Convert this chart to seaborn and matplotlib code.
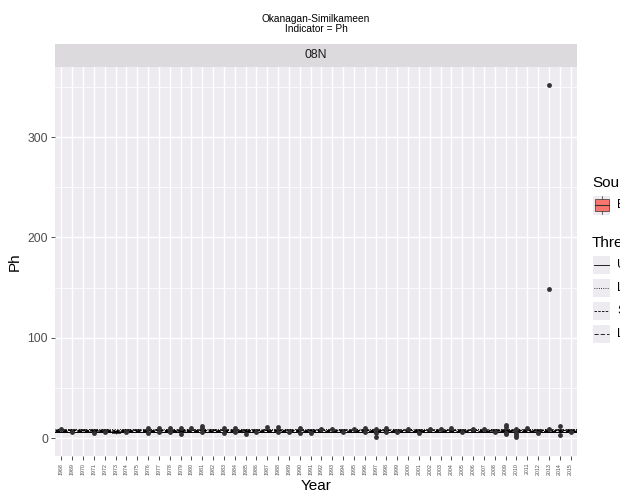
import numpy as np
import pandas as pd
import matplotlib
matplotlib.use("Agg")
import matplotlib.pyplot as plt
from matplotlib.patches import Rectangle
from matplotlib.lines import Line2D
import seaborn as sns

# pH sampling summary per year: five-number summaries
years = list(range(1968, 2016))
ph_min = [7.3, 7.4, 7.5, 7.0, 7.1, 4.5, 7.0, 7.6, 6.8, 7.0, 7.1, 6.7, 7.4, 7.0,
          7.5, 7.0, 7.1, 6.6, 7.2, 7.1, 7.0, 7.1, 7.0, 6.9, 7.2, 7.1, 7.2, 7.0,
          7.0, 6.6, 6.9, 7.0, 7.2, 6.8, 7.1, 7.1, 7.0, 7.2, 7.1, 7.0, 6.6, 6.0,
          5.8, 7.0, 6.8, 7.1, 6.9, 7.1]
ph_q1 = [7.7, 7.7, 7.8, 7.5, 7.5, 5.0, 7.5, 7.8, 7.6, 7.6, 7.6, 7.4, 7.8, 7.7,
         7.8, 7.6, 7.6, 7.4, 7.7, 7.7, 7.6, 7.7, 7.6, 7.5, 7.7, 7.7, 7.7, 7.6,
         7.6, 7.5, 7.6, 7.6, 7.7, 7.5, 7.7, 7.7, 7.6, 7.7, 7.7, 7.6, 7.5, 7.4,
         7.2, 7.6, 7.5, 7.7, 7.6, 7.6]
ph_med = [7.9, 7.9, 8.0, 7.7, 7.7, 6.0, 7.7, 8.0, 7.9, 7.9, 7.9, 7.8, 8.0, 8.0,
          8.0, 7.9, 7.9, 7.7, 7.9, 8.0, 7.9, 7.9, 7.8, 7.8, 7.9, 7.9, 7.9, 7.8,
          7.8, 7.8, 7.8, 7.8, 7.9, 7.7, 7.9, 7.9, 7.8, 7.9, 7.9, 7.8, 7.8, 7.7,
          7.6, 7.8, 7.7, 7.9, 7.8, 7.8]
ph_q3 = [8.1, 8.1, 8.2, 8.0, 8.0, 7.5, 7.9, 8.2, 8.2, 8.1, 8.2, 8.1, 8.3, 8.4,
         8.2, 8.2, 8.2, 8.0, 8.1, 8.3, 8.3, 8.1, 8.1, 8.0, 8.1, 8.1, 8.1, 8.0,
         8.1, 8.0, 8.1, 8.0, 8.1, 8.0, 8.1, 8.1, 8.0, 8.1, 8.1, 8.0, 8.1, 8.2,
         8.1, 8.1, 8.0, 8.2, 8.1, 8.0]
ph_max = [8.4, 8.3, 8.5, 8.3, 8.4, 8.0, 8.2, 8.5, 9.0, 8.6, 8.7, 8.8, 8.8, 9.4,
          8.5, 8.9, 8.8, 8.4, 8.5, 9.0, 9.1, 8.5, 8.6, 8.3, 8.6, 8.6, 8.7, 8.4,
          8.8, 8.4, 8.9, 8.4, 8.7, 8.5, 8.6, 8.8, 8.4, 8.5, 8.6, 8.4, 8.8, 9.6,
          9.0, 8.7, 8.4, 8.9, 8.6, 8.4]

# individual readings outside the whiskers
outlier_years = [1968, 1969, 1971, 1972, 1974, 1976, 1976, 1977, 1977, 1978, 1978,
                 1979, 1979, 1980, 1981, 1981, 1981, 1983, 1983, 1984, 1984,
                 1985, 1986, 1987, 1988, 1988, 1989, 1990, 1990, 1991,
                 1992, 1993, 1994, 1995, 1996, 1996, 1997, 1997, 1997,
                 1998, 1998, 1999, 2000, 2001, 2002, 2003, 2004, 2005,
                 2006, 2007, 2008, 2009, 2009, 2009, 2009, 2010, 2010, 2010,
                 2010, 2011, 2012, 2013, 2013, 2013, 2014, 2014, 2015]
outlier_values = [8.9, 6.5, 5.5, 6.0, 6.0, 10.0, 5.5, 10.0, 6.0, 10.0, 6.0,
                  10.0, 4.0, 10.0, 12.0, 10.0, 6.0, 10.0, 5.5, 10.0, 6.0,
                  4.0, 6.0, 11.0, 11.0, 6.0, 6.0, 10.0, 5.5, 5.5,
                  9.5, 9.5, 6.0, 9.5, 10.0, 6.0, 9.5, 5.0, 1.5,
                  10.0, 6.0, 6.0, 9.5, 5.5, 9.5, 9.5, 10.0, 6.0,
                  9.5, 9.5, 6.0, 13.0, 11.0, 5.0, 4.0, 9.0, 5.0, 3.0,
                  1.0, 10.0, 5.5, 9.5, 352.0, 149.0, 12.0, 3.5, 6.0]

# guideline values, one per line type
threshold_values = [6.5, 9.0, 8.5, 7.0]
threshold_styles = ["-", ":", (0, (3, 1.5)), (0, (5, 2.5))]
threshold_labels = ["Upper", "Lower", "Short-term", "Long-term"]

region = "Okanagan-Similkameen"
indicator = "Ph"
panel = "08N"

year_labels = [str(y) for y in years]
rows = []
for i, y in enumerate(year_labels):
    for v in (ph_min[i], ph_q1[i], ph_med[i], ph_q3[i], ph_max[i]):
        rows.append({"Year": y, "Ph": v})
df = pd.DataFrame(rows)
out_df = pd.DataFrame({"Year": [str(y) for y in outlier_years], "Ph": outlier_values})

FONT = "Liberation Sans"
plt.rcParams["font.family"] = [FONT, "DejaVu Sans"]

W, H = 620, 500
fig = plt.figure(figsize=(W / 100, H / 100), dpi=100)
px = lambda x: x / W
py = lambda y: 1 - y / H

ax = fig.add_axes([px(55), py(456), px(577) - px(55), py(67) - py(456)])
panel_bg = "#EDEBEF"
ax.set_facecolor(panel_bg)

red = "#F8766D"
dark = "#333333"
sns.boxplot(data=df, x="Year", y="Ph", order=year_labels, ax=ax,
            whis=(0, 100), showfliers=False, width=0.75,
            color=red, saturation=1,
            boxprops=dict(edgecolor=dark, linewidth=0.6),
            whiskerprops=dict(color=dark, linewidth=0.8),
            capprops=dict(linewidth=0),
            medianprops=dict(color=dark, linewidth=1.2))
sns.stripplot(data=out_df, x="Year", y="Ph", order=year_labels, ax=ax,
              jitter=False, color=dark, size=3.5, linewidth=0, zorder=5)

for v, ls in zip(threshold_values, threshold_styles):
    ax.axhline(v, color="black", linewidth=0.7, linestyle=ls, zorder=4)

ax.set_xlim(-0.6, len(years) - 1 + 0.6)
ax.set_ylim(-17.9, 369.8)
ax.set_yticks([0, 100, 200, 300])
ax.set_yticks([50, 150, 250, 350], minor=True)
ax.grid(which="major", color="white", linewidth=1.0)
ax.grid(which="minor", axis="y", color="white", linewidth=0.5)
ax.set_axisbelow(True)
for s in ax.spines.values():
    s.set_visible(False)

ax.tick_params(axis="y", which="major", labelsize=8.8, labelcolor="#4D4D4D",
               color=dark, length=3, width=0.6, pad=2)
ax.tick_params(axis="y", which="minor", length=0)
ax.tick_params(axis="x", labelsize=3.8, labelcolor="#4D4D4D", color=dark,
               length=3, width=0.6, pad=2, labelrotation=90)
ax.set_xlabel("Year", fontsize=11)
ax.set_ylabel("Ph", fontsize=11)
ax.xaxis.set_label_coords((316 - 55) / (577 - 55), -(479 - 456) / (456 - 67))
ax.yaxis.set_label_coords(-(55 - 22) / (577 - 55), 0.5)

# facet strip
strip = fig.add_axes([px(55), py(67), px(577) - px(55), py(44) - py(67)])
strip.set_facecolor("#DCDADD")
strip.set_xticks([]); strip.set_yticks([])
for s in strip.spines.values():
    s.set_visible(False)
strip.text(0.5, 0.5, panel, ha="center", va="center", fontsize=8.8, color="#1A1A1A")

# plot title
fig.text(px(316), py(24), f"{region}\nIndicator = {indicator}", ha="center",
         va="center", fontsize=7.3, color="black", linespacing=1.0)

# legend on the right margin
fig.text(px(592), py(183), "Source", fontsize=11, va="center", ha="left")
fig.patches.append(Rectangle((px(593), py(215)), px(17), py(196) - py(215),
                             transform=fig.transFigure, facecolor=panel_bg,
                             edgecolor="none"))
fig.patches.append(Rectangle((px(595), py(211)), px(14), py(199) - py(211),
                             transform=fig.transFigure, facecolor=red,
                             edgecolor=dark, linewidth=0.5))
fig.lines.append(Line2D([px(595), px(609)], [py(205), py(205)],
                        transform=fig.transFigure, color=dark, linewidth=0.8))
fig.lines.append(Line2D([px(602), px(602)], [py(196), py(199)],
                        transform=fig.transFigure, color=dark, linewidth=0.5))
fig.lines.append(Line2D([px(602), px(602)], [py(211), py(214)],
                        transform=fig.transFigure, color=dark, linewidth=0.5))
fig.text(px(617), py(205), "EMS", fontsize=8.8, va="center", ha="left")

fig.text(px(592), py(243), "Threshold", fontsize=11, va="center", ha="left")
key_centres = [265, 288, 311, 334]
for yc, ls, lab in zip(key_centres, threshold_styles, threshold_labels):
    fig.patches.append(Rectangle((px(593), py(yc + 9)), px(17), py(yc - 9) - py(yc + 9),
                                 transform=fig.transFigure, facecolor=panel_bg,
                                 edgecolor="none"))
    fig.lines.append(Line2D([px(594), px(609)], [py(yc), py(yc)],
                            transform=fig.transFigure, color="black",
                            linewidth=0.6, linestyle=ls))
    fig.text(px(617), py(yc), lab, fontsize=8.8, va="center", ha="left")

fig.savefig("out.png", dpi=100, facecolor="white")
